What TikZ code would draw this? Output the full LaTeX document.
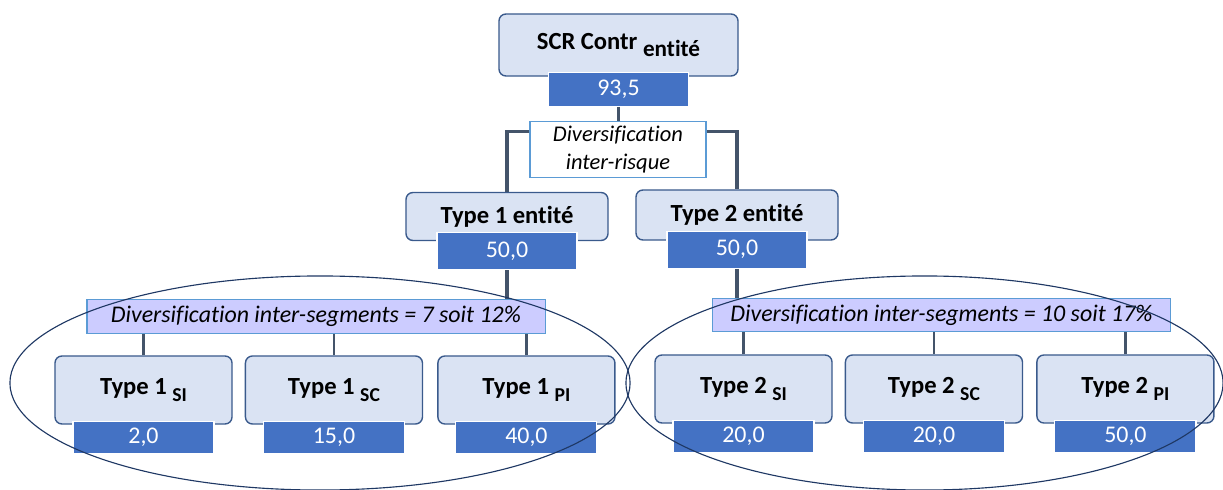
\documentclass[tikz,border=0pt]{standalone}
\usepackage{fontspec}
\setmainfont{Carlito}[Ligatures=CommonOff]
\usetikzlibrary{positioning,calc}
\definecolor{BoxLine}{HTML}{3A5A8C}
\definecolor{BoxBack}{HTML}{DAE3F3}
\definecolor{ValBack}{HTML}{4472C4}
\definecolor{SegBack}{HTML}{CCCCFF}
\definecolor{SegLine}{HTML}{5B9BD5}
\definecolor{LinkCol}{HTML}{44546A}
\definecolor{RingCol}{HTML}{1F3864}
\newcommand{\lowidx}[2][14]{\raisebox{-5pt}{\fontsize{#1}{#1}\selectfont #2}}
\tikzset{every node/.style={font=\fontsize{17}{19}\selectfont},box/.style={draw=BoxLine,
 fill=BoxBack,rounded corners=5pt,line width=1pt,font=\fontsize{17.5}{19}\selectfont\bfseries},
 leaf/.style={box,minimum width=4.425cm,minimum height=1.7cm},val/.style={fill=ValBack,
 draw=white,line width=0.8pt,text=white,minimum width=3.5cm,minimum height=0.85cm},
 seg/.style={draw=SegLine,fill=SegBack,line width=0.8pt,font=\fontsize{17}{18}\selectfont\itshape,
 minimum width=11.45cm,minimum height=0.83cm},link/.style={draw=LinkCol,line width=2.2pt},
 ring/.style={draw=RingCol,line width=0.8pt}}
\begin{document}
\begin{tikzpicture}[x=0.025cm,y=-0.025cm,node distance=0.3cm]
\useasboundingbox (0,0) rectangle (1223,490);
\node[box,minimum width=5.975cm,minimum height=1.55cm] (scr) at (618.5,45) {SCR Contr \lowidx[16.5]{entité}};
\node[val,below=-0.125cm of scr] (scrv) {93,5};
\node[draw=SegLine,fill=white,line width=0.8pt,align=center,font=\fontsize{16}{20}\selectfont\itshape,
 minimum width=4.4cm,minimum height=1.375cm] (inter) at (618,149.5) {Diversification\\inter-risque};
\node[box,minimum width=5.05cm,minimum height=1.2cm] (t1) at (507,216.5) {Type 1 entité};
\node[val,below=-0.225cm of t1,minimum height=0.925cm] (t1v) {50,0};
\node[box,minimum width=5.05cm,minimum height=1.25cm] (t2) at (737,215) {Type 2 entité};
\node[val,below=-0.25cm of t2,minimum height=0.925cm] (t2v) {50,0};
\node[seg] (seg1) at (316,316.5) {Diversification inter-segments = 7 soit 12\%};
\node[seg] (seg2) at (941.5,315) {Diversification inter-segments = 10 soit 17\%};
\node[leaf] (a1) at (143.5,390) {Type 1 \lowidx{SI}};
\node[leaf,right=of a1] (a2) {Type 1 \lowidx{SC}};
\node[leaf,right=0.35cm of a2] (a3) {Type 1 \lowidx{PI}};
\node[leaf] (b1) at (743.5,389) {Type 2 \lowidx{SI}};
\node[leaf,right=of b1] (b2) {Type 2 \lowidx{SC}};
\node[leaf,right=0.325cm of b2] (b3) {Type 2 \lowidx{PI}};
\node[val,below=-0.1cm of a1,minimum width=3.525cm,minimum height=0.8cm] (a1v) {2,0};
\node[val,below=-0.1cm of a2,minimum width=3.525cm,minimum height=0.8cm] (a2v) {15,0};
\node[val,below=-0.1cm of a3,minimum width=3.525cm,minimum height=0.8cm] (a3v) {40,0};
\node[val,below=-0.1cm of b1,minimum width=3.525cm,minimum height=0.8cm] (b1v) {20,0};
\node[val,below=-0.1cm of b2,minimum width=3.525cm,minimum height=0.8cm] (b2v) {20,0};
\node[val,below=-0.1cm of b3,minimum width=3.525cm,minimum height=0.8cm] (b3v) {50,0};
\draw[link] (scrv) -- (scrv |- inter.north);
\draw[link] ($(inter.north west)+(0,11)$) -| (t1);
\draw[link] ($(inter.north east)+(0,11)$) -| (t2);
\draw[link] (t1v) -- (t1v |- seg1.north);
\draw[link] (t2v) -- (t2v |- seg2.north);
\draw[link,line width=1.8pt] (a1) -- (a1 |- seg1.south) (a2) -- (a2 |- seg1.south) (a3) -- (a3 |- seg1.south);
\draw[link,line width=1.8pt] (b1) -- (b1 |- seg2.south) (b2) -- (b2 |- seg2.south) (b3) -- (b3 |- seg2.south);
\draw[ring] (320,383) ellipse [x radius=7.75cm,y radius=2.675cm];
\draw[ring] (924.5,383) ellipse [x radius=7.4625cm,y radius=2.675cm];
\end{tikzpicture}
\end{document}
